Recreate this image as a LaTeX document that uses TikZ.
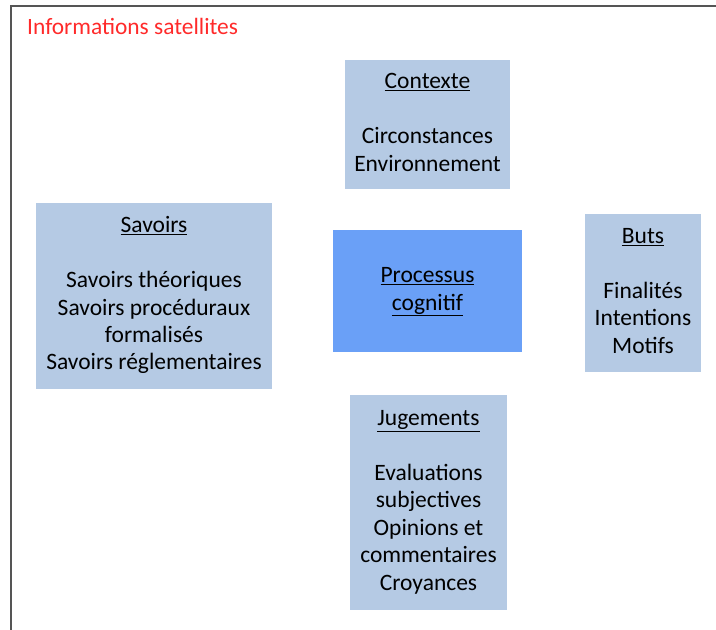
\documentclass[tikz,border=0pt]{standalone}
\usepackage{fontspec}
\setmainfont{Carlito}
\definecolor{boxblue}{HTML}{B5CAE4}
\definecolor{procblue}{HTML}{6AA0F7}
\definecolor{framegray}{HTML}{555555}
\definecolor{titlered}{HTML}{FF2A2A}
\newcommand{\liftlines}[1]{\raisebox{2pt}{\begin{tabular}{@{}c@{}}#1\end{tabular}}}
\begin{document}
\begin{tikzpicture}[x=1pt,y=-1pt,
  infobox/.style={fill=boxblue, draw=none, inner sep=0pt,
    font=\fontsize{23.5}{27.4}\selectfont, text=black},
  procbox/.style={infobox, fill=procblue}]
\useasboundingbox (0,0) rectangle (716,630);
\draw[framegray, line width=1.5pt] (11,631) -- (11,6) -- (717,6);
\node[anchor=base west, text=titlered, font=\fontsize{23.4}{28}\selectfont, inner sep=0pt] (title) at (27,34) {Informations satellites};
\node[infobox, minimum width=165pt, minimum height=129pt] (ctx) at (427.5,124.5)
  {\liftlines{\underline{Contexte}\\ \\ Circonstances\\ Environnement}};
\node[infobox, minimum width=236pt, minimum height=186pt] (sav) at (154,296)
  {\liftlines{\underline{Savoirs}\\ \\ Savoirs théoriques\\ Savoirs procéduraux\\ formalisés\\ Savoirs réglementaires}};
\node[procbox, minimum width=189pt, minimum height=122pt] (proc) at (427.5,291)
  {\liftlines{\underline{Processus}\\ \underline{cognitif}}};
\node[infobox, minimum width=116pt, minimum height=158pt] (buts) at (643,293)
  {\liftlines{\underline{Buts}\\ \\ Finalités\\ Intentions\\ Motifs}};
\node[infobox, minimum width=157pt, minimum height=215pt] (jug) at (428.5,502.5)
  {\liftlines{\underline{Jugements}\\ \\ Evaluations\\ subjectives\\ Opinions et\\ commentaires\\ Croyances}};
\end{tikzpicture}
\end{document}
